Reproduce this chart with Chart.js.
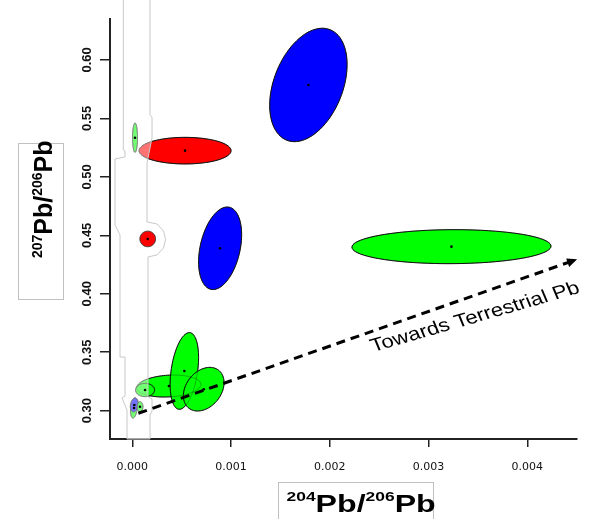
<!DOCTYPE html>
<html>
<head>
<meta charset="utf-8">
<script src="https://cdn.jsdelivr.net/npm/chart.js@4.4.1/dist/chart.umd.min.js"></script>
<style>
  html, body { margin: 0; padding: 0; background: #fff; }
</style>
</head>
<body>
<canvas id="pbChart" width="596" height="519"></canvas>
<script>
// error ellipses: centre, half widths (x, y) and error correlation
const ellGroup = ['blue', 'red', 'green', 'red', 'blue', 'green', 'green', 'green', 'green', 'green', 'green', 'blue', 'green'];
const ellX   = [0.001783, 0.000534, 0.0000274, 0.000156, 0.000889, 0.003232, 0.000370, 0.000129, 0.000527, 0.000723, 0.0000172, 0.0000203, 0.000078];
const ellY   = [0.5786, 0.5224, 0.5335, 0.4469, 0.4389, 0.4403, 0.3211, 0.3177, 0.3340, 0.3184, 0.3023, 0.3049, 0.3034];
const ellSx  = [0.000392, 0.000466, 0.0000253, 0.0000793, 0.000218, 0.001008, 0.000325, 0.0000963, 0.000144, 0.000206, 0.0000355, 0.0000405, 0.000030];
const ellSy  = [0.0485, 0.01138, 0.01255, 0.00667, 0.0353, 0.01454, 0.0094, 0.0057, 0.0328, 0.01866, 0.00855, 0.0060, 0.0043];
const ellRho = [0.36, 0, 0, 0, 0.33, 0.03, 0.15, 0, 0.35, 0.3, 0.3, 0.2, 0];

// trend arrow towards terrestrial lead
const arrowX = [0.000061, 0.004485];
const arrowY = [0.2978, 0.4289];
const arrowLabel = 'Towards Terrestrial Pb';

// axes
const xTicks = [0, 0.001, 0.002, 0.003, 0.004];
const xTickLabels = ['0.000', '0.001', '0.002', '0.003', '0.004'];
const yTicks = [0.30, 0.35, 0.40, 0.45, 0.50, 0.55, 0.60];
const yTickLabels = ['0.30', '0.35', '0.40', '0.45', '0.50', '0.55', '0.60'];

// pale masked strip left in the original figure (data units)
const maskX = [-0.0000912, -0.0000912, -0.0000740, -0.0000740, -0.0001753, -0.0001753, -0.0001246, -0.0001246, -0.0000740, -0.0000740,
               -0.0001044, -0.0000537, -0.0000537, 0.0001793, 0.0001793, 0.0001996, 0.0001996, 0.0001591, 0.0001591, 0.0002502,
               0.0003161, 0.0003364, 0.0003161, 0.0002502, 0.0001489, 0.0001489, 0.0001996, 0.0001996, 0.0001793, 0.0001793];
const maskY = [0.66, 0.5230, 0.5222, 0.5170, 0.5153, 0.4589, 0.4503, 0.3459, 0.3459, 0.3126,
               0.3109, 0.3006, 0.2758, 0.2758, 0.2963, 0.2998, 0.3100, 0.3117, 0.4315, 0.4332,
               0.4392, 0.4465, 0.4537, 0.4597, 0.4614, 0.5119, 0.5333, 0.5512, 0.5530, 0.66];

const groupFill = { blue: '#0000ff', red: '#ff0000', green: '#00ff00' };
const aboveMask = [3];   // the small red one sits on top of the pale strip

function traceEllipse(ctx, xs, ys, i) {
    const r = ellRho[i], q = Math.sqrt(1 - r * r);
    ctx.beginPath();
    for (let k = 0; k <= 90; k++) {
        const t = k / 90 * 2 * Math.PI;
        const px = xs.getPixelForValue(ellX[i] + ellSx[i] * Math.cos(t));
        const py = ys.getPixelForValue(ellY[i] + ellSy[i] * (r * Math.cos(t) + q * Math.sin(t)));
        if (k === 0) ctx.moveTo(px, py); else ctx.lineTo(px, py);
    }
    ctx.closePath();
}

function paintEllipse(ctx, xs, ys, i) {
    traceEllipse(ctx, xs, ys, i);
    ctx.fillStyle = groupFill[ellGroup[i]];
    ctx.fill();
    ctx.stroke();
}

const ellipsePlugin = {
    id: 'ellipses',
    beforeDatasetsDraw(chart) {
        const { ctx, scales: { x, y } } = chart;
        ctx.save();
        ctx.lineWidth = 1;
        ctx.strokeStyle = '#111';
        const below = ellX.map((_, i) => i).filter(i => !aboveMask.includes(i));
        below.forEach(i => paintEllipse(ctx, x, y, i));
        // lower outlines show faintly through the ellipses on top
        ctx.globalAlpha = 0.3;
        below.forEach(i => { traceEllipse(ctx, x, y, i); ctx.stroke(); });
        ctx.globalAlpha = 1;

        // the pale mask strip
        ctx.beginPath();
        maskX.forEach((v, i) => {
            const px = x.getPixelForValue(v), py = y.getPixelForValue(maskY[i]);
            if (i === 0) ctx.moveTo(px, py); else ctx.lineTo(px, py);
        });
        ctx.fillStyle = 'rgba(255,255,255,0.45)';
        ctx.fill();
        ctx.strokeStyle = '#c8c8c8';
        ctx.stroke();

        ctx.strokeStyle = '#333';
        aboveMask.forEach(i => paintEllipse(ctx, x, y, i));
        ctx.restore();
    }
};

function drawRich(ctx, parts) {
    let cx = 0;
    parts.forEach(([t, font, rise]) => {
        ctx.font = font;
        ctx.fillText(t, cx, -rise);
        cx += ctx.measureText(t).width;
    });
}

const annotatePlugin = {
    id: 'annotate',
    afterDraw(chart) {
        const { ctx, scales: { x, y } } = chart;
        ctx.save();
        ctx.fillStyle = '#000';

        // arrow head
        const x0 = x.getPixelForValue(arrowX[0]), y0 = y.getPixelForValue(arrowY[0]);
        const x1 = x.getPixelForValue(arrowX[1]), y1 = y.getPixelForValue(arrowY[1]);
        ctx.save();
        ctx.translate(x1, y1);
        ctx.rotate(Math.atan2(y1 - y0, x1 - x0));
        ctx.beginPath();
        ctx.moveTo(2, 0);
        ctx.lineTo(-8, -4.5);
        ctx.lineTo(-8, 4.5);
        ctx.closePath();
        ctx.fill();
        ctx.restore();

        // arrow label: a little flatter than the arrow and slightly wide
        const labelAngle = 16 * Math.PI / 180, stretch = 1.2;
        ctx.save();
        ctx.translate(x.getPixelForValue(0.002439), y.getPixelForValue(0.3502));
        ctx.scale(stretch, 1);
        ctx.rotate(-Math.atan(Math.tan(labelAngle) * stretch));
        ctx.font = '18.5px "Liberation Sans", Arial, sans-serif';
        ctx.textBaseline = 'alphabetic';
        ctx.fillText(arrowLabel, 0, 0);
        ctx.restore();

        const main = 'bold 25px "Liberation Sans", Arial, sans-serif';
        const sup = 'bold 14px "Liberation Sans", Arial, sans-serif';

        // y title box
        ctx.strokeStyle = '#c0c0c0';
        ctx.lineWidth = 1;
        ctx.strokeRect(18.5, 143.5, 45, 156);
        ctx.save();
        ctx.translate(51.5, 258);
        ctx.rotate(-Math.PI / 2);
        drawRich(ctx, [['207', sup, 10], ['Pb', main, 0], ['/', main, 0], ['206', sup, 10], ['Pb', main, 0]]);
        ctx.restore();

        // x title box
        ctx.strokeRect(278.5, 482.5, 155, 60);
        ctx.save();
        ctx.translate(286.5, 511.5);
        ctx.scale(1.34, 1);
        const xm = 'bold 24px "Liberation Sans", Arial', xs = 'bold 13px "Liberation Sans", Arial';
        drawRich(ctx, [['204', xs, 10.5], ['Pb', xm, 0], ['/', xm, 0], ['206', xs, 10.5], ['Pb', xm, 0]]);
        ctx.restore();
        ctx.restore();
    }
};

const ctx = document.getElementById('pbChart').getContext('2d');
new Chart(ctx, {
    type: 'scatter',
    data: {
        datasets: [
            {
                label: 'centres',
                data: ellX.map((v, i) => ({ x: v, y: ellY[i] })),
                pointRadius: 1.3,
                pointBackgroundColor: '#000',
                pointBorderWidth: 0,
                order: 1
            },
            {
                label: 'arrow',
                data: arrowX.map((v, i) => ({ x: v, y: arrowY[i] })),
                showLine: true,
                borderColor: '#000',
                borderWidth: 3,
                borderDash: [9, 6],
                pointRadius: 0,
                clip: false,
                order: 2
            }
        ]
    },
    options: {
        responsive: false,
        animation: false,
        layout: { padding: { top: 19, right: 19, left: 0, bottom: 0 } },
        plugins: {
            legend: { display: false },
            tooltip: { enabled: false }
        },
        scales: {
            x: {
                type: 'linear',
                min: -0.000226,
                max: 0.004503,
                afterBuildTicks: s => { s.ticks = xTicks.map(v => ({ value: v })); },
                afterFit: s => { s.height = 80; },
                border: { color: '#222', width: 2 },
                grid: { drawOnChartArea: false, drawTicks: true, tickLength: 8, color: '#222', lineWidth: 1.5 },
                ticks: {
                    callback: (v, i) => xTickLabels[i],
                    font: { family: "'DejaVu Sans', sans-serif", size: 11 },
                    color: '#111',
                    padding: 14,
                    minRotation: 0,
                    maxRotation: 0
                }
            },
            y: {
                type: 'linear',
                min: 0.2758,
                max: 0.635,
                afterBuildTicks: s => { s.ticks = yTicks.map(v => ({ value: v })); },
                afterFit: s => { s.width = 110; },
                border: { color: '#222', width: 2 },
                grid: { drawOnChartArea: false, drawTicks: true, tickLength: 10, color: '#222', lineWidth: 1.5 },
                ticks: {
                    callback: (v, i) => yTickLabels[i],
                    font: { family: "'Liberation Sans', Arial, sans-serif", size: 13, weight: 'bold' },
                    color: '#111',
                    padding: 0,
                    minRotation: 90,
                    maxRotation: 90,
                    crossAlign: 'center'
                }
            }
        }
    },
    plugins: [ellipsePlugin, annotatePlugin]
});
</script>
</body>
</html>
